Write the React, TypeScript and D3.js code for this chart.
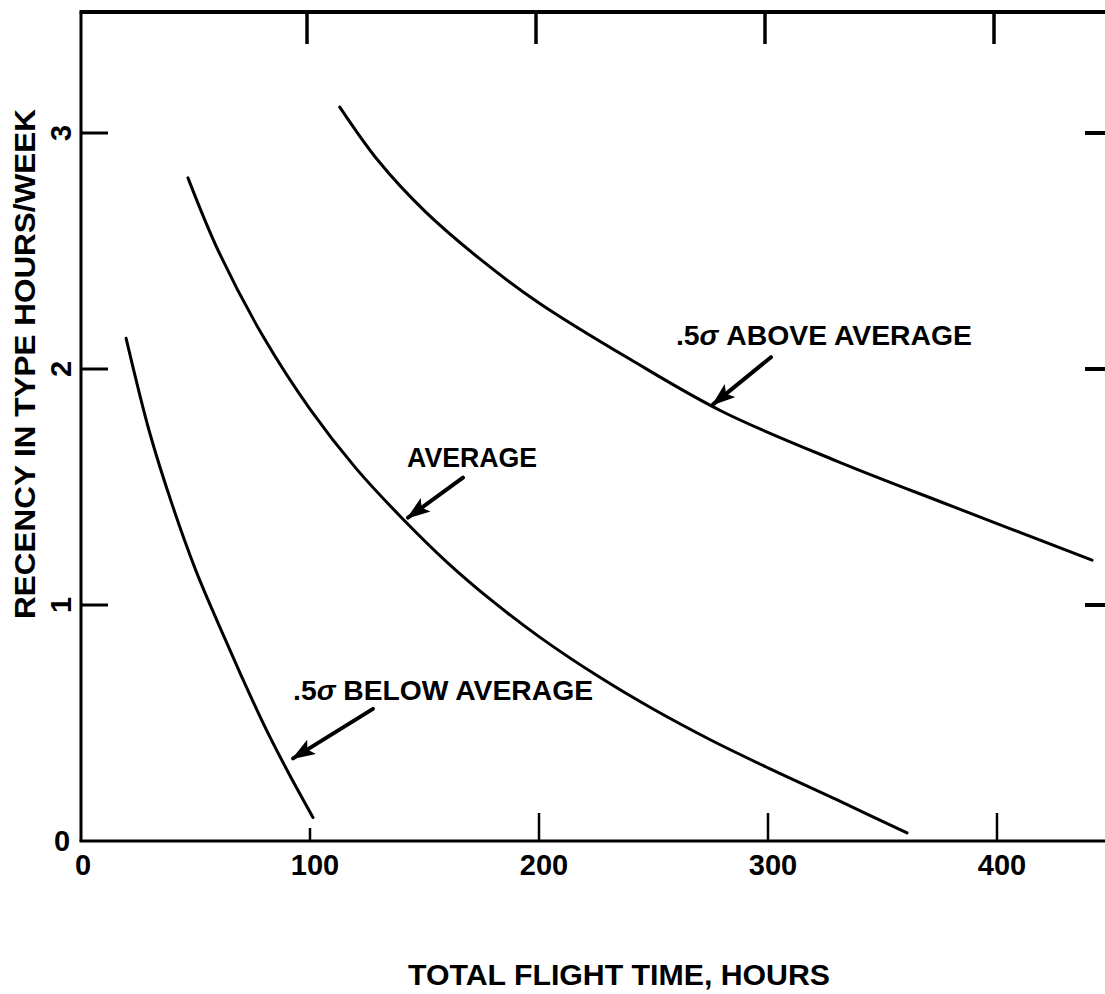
import React, { useRef, useEffect } from 'react';
import * as d3 from 'd3';

// curves: [total flight time (h), recency (h/week)]
const belowAverage = [
  [19.7, 2.13], [30, 1.73], [40, 1.42], [50, 1.15], [60, 0.92],
  [70, 0.7], [80, 0.49], [90, 0.3], [101.3, 0.1],
];
const average = [
  [46.7, 2.81], [60, 2.5], [80, 2.13], [100, 1.83], [120, 1.58],
  [140, 1.37], [160, 1.18], [180, 1.014], [200, 0.866], [225, 0.703],
  [250, 0.558], [275, 0.428], [300, 0.31], [330, 0.175], [360.7, 0.034],
];
const aboveAverage = [
  [113, 3.11], [130, 2.88], [150, 2.67], [175, 2.46], [200, 2.28],
  [240, 2.04], [280, 1.82], [330, 1.61], [380, 1.42], [441.5, 1.19],
];

const xTicks = [0, 100, 200, 300, 400];
const yTicks = [1, 2, 3];

// annotation text + arrow (data coords)
const labels = [
  { text: 'ABOVE AVERAGE', sigma: true, x: 259.8, y: 2.1, w: 296, tail: [301.3, 2.05], tip: [276, 1.85] },
  { text: 'AVERAGE', sigma: false, x: 142.4, y: 1.585, w: 130, tail: [166.8, 1.54], tip: [142.8, 1.37] },
  { text: 'BELOW AVERAGE', sigma: true, x: 92.6, y: 0.597, w: 300, tail: [127.5, 0.56], tip: [92.6, 0.35] },
];

const W = 1105;
const H = 994;
const FONT = '"Liberation Sans", Arial, sans-serif';

const App = () => {
  const svgRef = useRef(null);

  useEffect(() => {
    if (!svgRef.current) return;
    const svg = d3.select(svgRef.current);
    svg.selectAll('*').remove();

    const x = d3.scaleLinear().domain([0, 400]).range([81, 997]);
    const y = d3.scaleLinear().domain([0, 3]).range([841, 133]);
    const left = x(0);
    const bottom = y(0);
    const top = 12;

    svg.append('defs').append('marker')
      .attr('id', 'head')
      .attr('viewBox', '0 0 14 10')
      .attr('refX', 13).attr('refY', 5)
      .attr('markerWidth', 6).attr('markerHeight', 4.2)
      .attr('markerUnits', 'strokeWidth')
      .attr('orient', 'auto')
      .append('path')
      .attr('d', 'M0,0 L14,5 L0,10 L3,5 z')
      .attr('fill', '#000');

    // frame
    svg.append('line')
      .attr('x1', left).attr('x2', left).attr('y1', top).attr('y2', bottom)
      .attr('stroke', '#000').attr('stroke-width', 3);
    svg.append('line')
      .attr('x1', left - 1.5).attr('x2', W).attr('y1', top).attr('y2', top)
      .attr('stroke', '#000').attr('stroke-width', 4);
    svg.append('line')
      .attr('x1', left - 1.5).attr('x2', W).attr('y1', bottom).attr('y2', bottom)
      .attr('stroke', '#000').attr('stroke-width', 3);

    // x ticks (bottom + top)
    const xt = xTicks.filter(d => d > 0);
    svg.selectAll('.xb').data(xt).join('line')
      .attr('x1', d => x(d)).attr('x2', d => x(d))
      .attr('y1', bottom).attr('y2', d => bottom - (d === 100 ? 13 : 28))
      .attr('stroke', '#000').attr('stroke-width', 2.5);
    svg.selectAll('.xt').data(xt).join('line')
      .attr('x1', d => x(d) - 3).attr('x2', d => x(d) - 3)
      .attr('y1', top).attr('y2', top + 32)
      .attr('stroke', '#000').attr('stroke-width', 3.5);

    svg.selectAll('.xl').data(xTicks).join('text')
      .attr('x', d => x(d) + (d === 0 ? 2 : 5))
      .attr('y', bottom + 34)
      .attr('text-anchor', 'middle')
      .attr('font-family', FONT).attr('font-weight', 'bold').attr('font-size', 29)
      .text(d => d);

    // y ticks (left + right)
    svg.selectAll('.yl').data(yTicks).join('line')
      .attr('x1', left).attr('x2', left + 27)
      .attr('y1', d => y(d)).attr('y2', d => y(d))
      .attr('stroke', '#000').attr('stroke-width', 3);
    svg.selectAll('.yr').data(yTicks).join('line')
      .attr('x1', W - 20).attr('x2', W)
      .attr('y1', d => y(d)).attr('y2', d => y(d))
      .attr('stroke', '#000').attr('stroke-width', 4);
    svg.selectAll('.ytl').data(yTicks).join('text')
      .attr('transform', d => `translate(${left - 20},${y(d)}) rotate(-90)`)
      .attr('text-anchor', 'middle').attr('dominant-baseline', 'central')
      .attr('font-family', FONT).attr('font-weight', 'bold').attr('font-size', 29)
      .text(d => d);
    svg.append('text')
      .attr('x', left - 19).attr('y', bottom)
      .attr('text-anchor', 'middle').attr('dominant-baseline', 'central')
      .attr('font-family', FONT).attr('font-weight', 'bold').attr('font-size', 29)
      .text('0');

    // curves
    const line = d3.line().x(d => x(d[0])).y(d => y(d[1])).curve(d3.curveCatmullRom.alpha(0.5));
    [belowAverage, average, aboveAverage].forEach(s => {
      svg.append('path')
        .attr('d', line(s))
        .attr('fill', 'none').attr('stroke', '#000').attr('stroke-width', 3)
        .attr('stroke-linecap', 'round');
    });

    // annotations
    labels.forEach(l => {
      const t = svg.append('text')
        .attr('x', x(l.x)).attr('y', y(l.y))
        .attr('font-family', FONT).attr('font-weight', 'bold').attr('font-size', 28)
        .attr('textLength', l.w).attr('lengthAdjust', 'spacingAndGlyphs');
      if (l.sigma) {
        t.append('tspan').text('.5');
        t.append('tspan').attr('font-style', 'italic').text('σ ');
      }
      t.append('tspan').text(l.text);

      svg.append('line')
        .attr('x1', x(l.tail[0])).attr('y1', y(l.tail[1]))
        .attr('x2', x(l.tip[0])).attr('y2', y(l.tip[1]))
        .attr('stroke', '#000').attr('stroke-width', 4)
        .attr('stroke-linecap', 'round')
        .attr('marker-end', 'url(#head)');
    });

    // axis titles
    svg.append('text')
      .attr('x', 619).attr('y', 985)
      .attr('text-anchor', 'middle')
      .attr('font-family', FONT).attr('font-weight', 'bold').attr('font-size', 29)
      .attr('textLength', 422).attr('lengthAdjust', 'spacingAndGlyphs')
      .text('TOTAL FLIGHT TIME, HOURS');
    svg.append('text')
      .attr('transform', 'translate(35,364) rotate(-90)')
      .attr('text-anchor', 'middle')
      .attr('font-family', FONT).attr('font-weight', 'bold').attr('font-size', 29)
      .attr('textLength', 510).attr('lengthAdjust', 'spacingAndGlyphs')
      .text('RECENCY IN TYPE HOURS/WEEK');
  }, []);

  return (
    <svg
      ref={svgRef}
      width={W}
      height={H}
      style={{ position: 'absolute', left: 0, top: 0, background: '#fff' }}
    />
  );
};

export default App;
